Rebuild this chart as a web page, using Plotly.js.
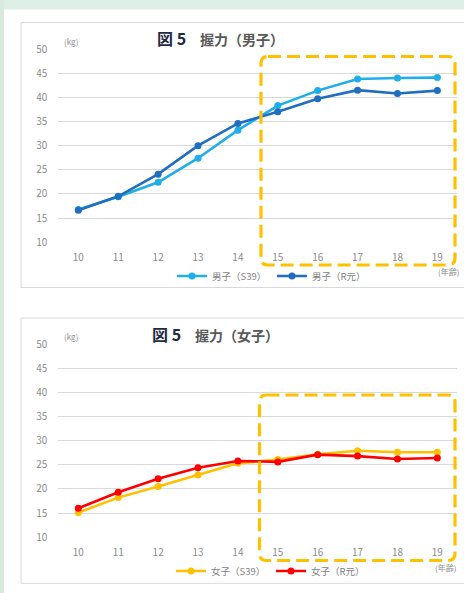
<!DOCTYPE html>
<html>
<head>
<meta charset="utf-8">
<script src="https://cdn.plot.ly/plotly-3.0.1.min.js"></script>
<style>
  html, body { margin: 0; padding: 0; background: #ffffff; }
  #chart { width: 464px; height: 593px; }
</style>
</head>
<body>
<div id="chart"></div>
<script>
// Grip strength (握力) by age, Showa 39 vs Reiwa 1
const ages = [10, 11, 12, 13, 14, 15, 16, 17, 18, 19];
const ageTicks = ['10', '11', '12', '13', '14', '15', '16', '17', '18', '19'];
const yTicks = [10, 15, 20, 25, 30, 35, 40, 45, 50];

const boysS39 = [16.8, 19.4, 22.4, 27.4, 33.2, 38.3, 41.4, 43.8, 44.0, 44.1];
const boysR1  = [16.6, 19.5, 24.1, 30.0, 34.6, 37.0, 39.7, 41.5, 40.8, 41.4];
const girlsS39 = [15.1, 18.2, 20.5, 22.9, 25.3, 26.1, 27.2, 27.9, 27.6, 27.6];
const girlsR1  = [16.0, 19.3, 22.1, 24.4, 25.8, 25.6, 27.1, 26.8, 26.2, 26.4];

const seriesNames = {
  boysS39: '男子（S39）', boysR1: '男子（R元）',
  girlsS39: '女子（S39）', girlsR1: '女子（R元）'
};

const W = 464, H = 593;
const px = v => v / W;
const py = v => 1 - v / H;

const FONT = '"Noto Sans CJK JP", "Noto Sans", sans-serif';
const GRID = '#d9d9d9';
const TICK_FONT = { family: FONT, size: 10, color: '#8c8c8c' };

function lineTrace(x, y, name, color, xa, ya, legendId) {
  return {
    type: 'scatter', mode: 'lines+markers', x: x, y: y, name: name,
    xaxis: xa, yaxis: ya, legend: legendId,
    line: { color: color, width: 2.6 },
    marker: { color: color, size: 7, symbol: 'circle' },
    hoverinfo: 'x+y+name'
  };
}

const traces = [
  lineTrace(ages, boysS39, seriesNames.boysS39, '#1eaeea', 'x', 'y', 'legend'),
  lineTrace(ages, boysR1, seriesNames.boysR1, '#1f6ebf', 'x', 'y', 'legend2'),
  lineTrace(ages, girlsS39, seriesNames.girlsS39, '#ffc000', 'x2', 'y2', 'legend3'),
  lineTrace(ages, girlsR1, seriesNames.girlsR1, '#ff0000', 'x2', 'y2', 'legend4')
];

function xAxis(anchor) {
  return {
    domain: [px(58.4), px(457.3)], anchor: anchor,
    range: [9.5, 19.5], tickvals: ages, ticktext: ageTicks,
    showgrid: false, zeroline: false, showline: false,
    ticks: 'outside', ticklen: 6, tickcolor: 'rgba(0,0,0,0)',
    tickfont: TICK_FONT, fixedrange: true
  };
}
function yAxis(anchor, top, bottom) {
  return {
    domain: [py(bottom), py(top)], anchor: anchor,
    range: [9.98, 50.02], tickvals: yTicks,
    showgrid: true, gridcolor: GRID, gridwidth: 1,
    zeroline: false, showline: false,
    ticks: 'outside', ticklen: 8, tickcolor: 'rgba(0,0,0,0)',
    tickfont: TICK_FONT, fixedrange: true
  };
}

// Rounded dashed rectangle, given in pixel coordinates
function roundRect(x0, y0, x1, y1, r) {
  const P = (x, y) => px(x) + ',' + py(y);
  return 'M' + P(x0 + r, y0) + ' L' + P(x1 - r, y0) + ' Q' + P(x1, y0) + ' ' + P(x1, y0 + r) +
         ' L' + P(x1, y1 - r) + ' Q' + P(x1, y1) + ' ' + P(x1 - r, y1) +
         ' L' + P(x0 + r, y1) + ' Q' + P(x0, y1) + ' ' + P(x0, y1 - r) +
         ' L' + P(x0, y0 + r) + ' Q' + P(x0, y0) + ' ' + P(x0 + r, y0) + ' Z';
}
function rect(x0, y0, x1, y1, fill, lineColor, layer) {
  return {
    type: 'rect', xref: 'paper', yref: 'paper', layer: layer || 'below',
    x0: px(x0), x1: px(x1), y0: py(y1), y1: py(y0),
    fillcolor: fill, line: { color: lineColor || 'rgba(0,0,0,0)', width: lineColor ? 1 : 0 }
  };
}

const shapes = [
  // page background strips
  rect(0, 0, 464, 9.5, '#e0efe6'),
  rect(0, 0, 4, 593, '#d6eadd'),
  // chart frames
  rect(21, 22.5, 470, 287.5, '#ffffff', '#d9d9d9'),
  rect(21, 318, 470, 583.3, '#ffffff', '#d9d9d9'),
  // highlighted age range 15–19
  { type: 'path', xref: 'paper', yref: 'paper', layer: 'above',
    path: roundRect(261, 56.5, 455, 265, 7),
    line: { color: '#ffc000', width: 3.2, dash: '13px,6px' } },
  { type: 'path', xref: 'paper', yref: 'paper', layer: 'above',
    path: roundRect(259.5, 395, 455, 560.5, 7),
    line: { color: '#ffc000', width: 3.2, dash: '13px,6px' } }
];

function ann(text, x, y, size, color, anchor, bold) {
  return {
    xref: 'paper', yref: 'paper', x: px(x), y: py(y), xanchor: anchor || 'left', yanchor: 'middle',
    text: bold ? '<b>' + text + '</b>' : text, showarrow: false,
    font: { family: FONT, size: size, color: color }
  };
}

const annotations = [
  ann('<span style="font-size:16px;color:#1f2a44">図 5</span>　握力（男子）', 155, 38, 14, '#595959', 'left', true),
  ann('<span style="font-size:16px;color:#1f2a44">図 5</span>　握力（女子）', 150, 333.5, 14, '#595959', 'left', true),
  ann('(kg)', 62, 41.5, 8, '#8c8c8c'),
  ann('(kg)', 61.5, 336, 8, '#8c8c8c'),
  ann('(年齢)', 436, 272, 8, '#8c8c8c'),
  ann('(年齢)', 433, 567.5, 8, '#8c8c8c')
];

function legendAt(x, y) {
  return {
    x: px(x), y: py(y), xanchor: 'left', yanchor: 'middle',
    orientation: 'h', bgcolor: 'rgba(0,0,0,0)', borderwidth: 0,
    font: { family: FONT, size: 9.5, color: '#7f7f7f' },
    itemclick: false, itemdoubleclick: false
  };
}

const layout = {
  width: W, height: H, autosize: false,
  margin: { l: 0, r: 0, t: 0, b: 0, pad: 0 },
  paper_bgcolor: '#ffffff', plot_bgcolor: 'rgba(0,0,0,0)',
  showlegend: true,
  xaxis: xAxis('y'),
  yaxis: yAxis('x', 49, 242.3),
  xaxis2: xAxis('y2'),
  yaxis2: yAxis('x2', 344, 537.3),
  legend: legendAt(172, 276),
  legend2: legendAt(272, 276),
  legend3: legendAt(171, 571),
  legend4: legendAt(271, 571),
  shapes: shapes,
  annotations: annotations
};

Plotly.newPlot('chart', traces, layout, { displayModeBar: false, staticPlot: true });
</script>
</body>
</html>
